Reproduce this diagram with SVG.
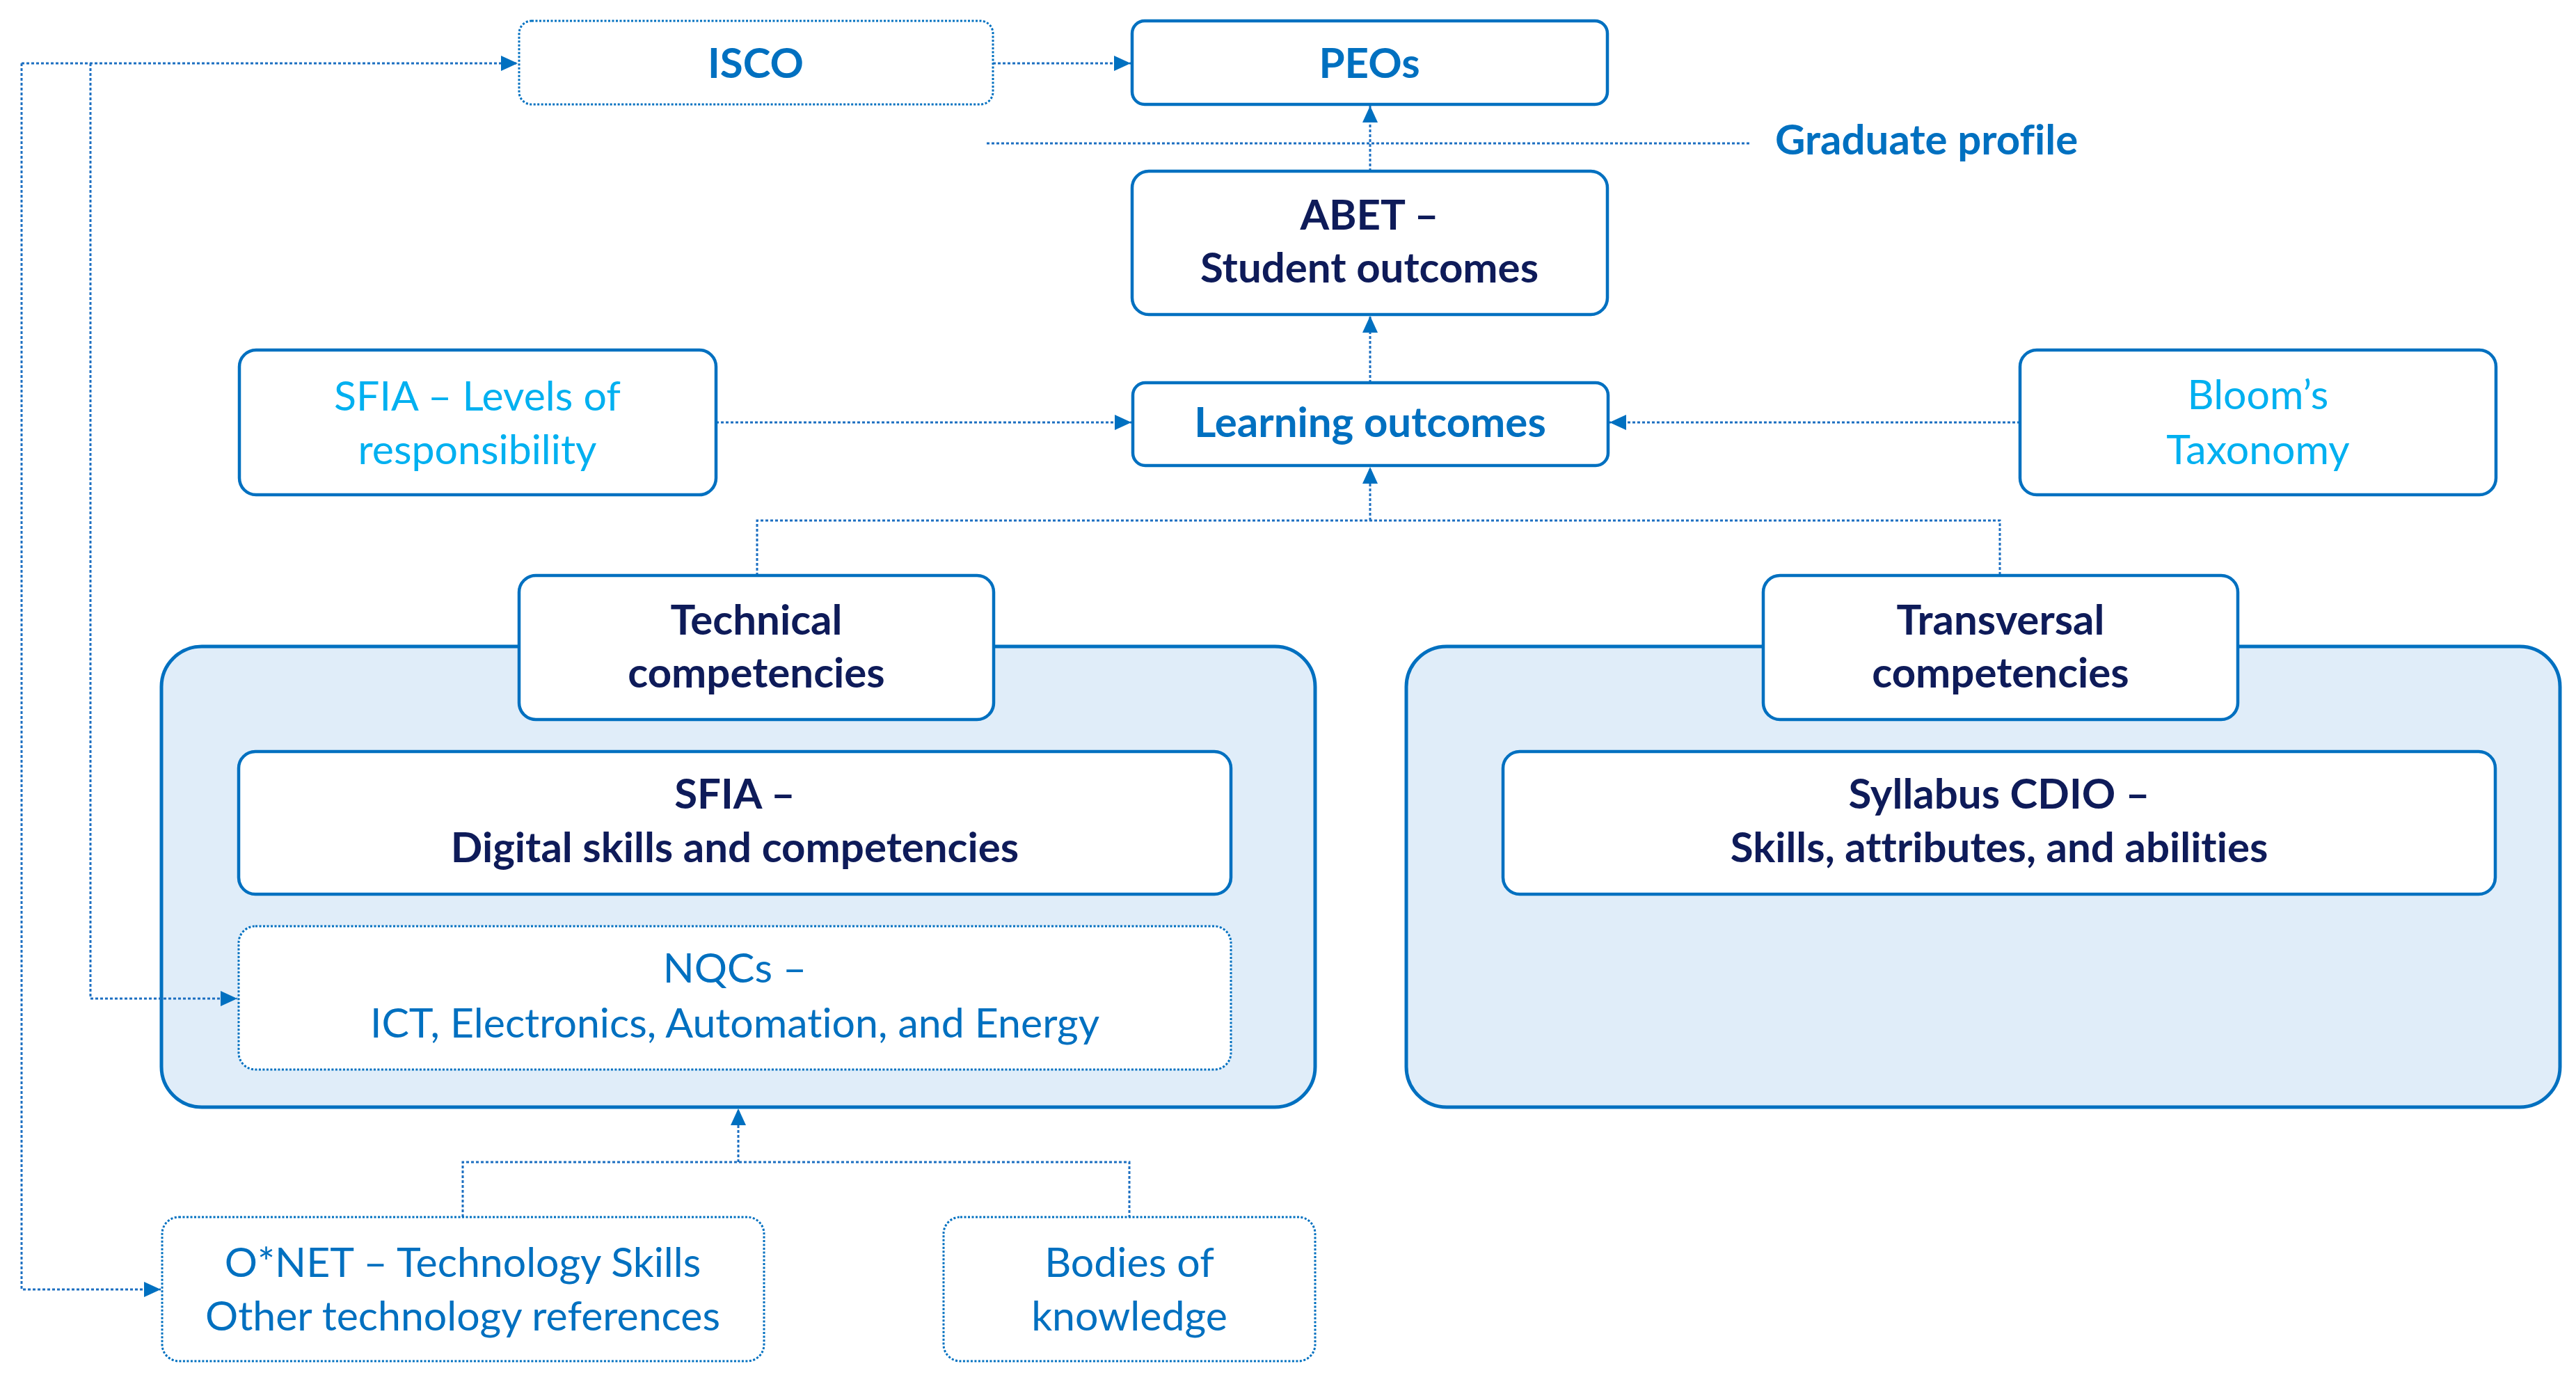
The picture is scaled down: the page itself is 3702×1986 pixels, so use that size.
<svg xmlns="http://www.w3.org/2000/svg" width="3702" height="1986" viewBox="0 0 3702 1986">
<defs>
<style>
.bg{fill:#ffffff}
.cont{fill:#E0EDF9;stroke:#0070C0;stroke-width:5}
.node{fill:#ffffff;stroke:#0070C0;stroke-width:4.5}
.dnode{fill:#ffffff;stroke:#0070C0;stroke-width:3;stroke-dasharray:3 2.5}
.conn{fill:none;stroke:#1C6FC1;stroke-width:3;stroke-dasharray:4 3}
.t{font-family:Lato,"Open Sans","Liberation Sans",sans-serif;font-size:59px;text-anchor:middle;font-variant-ligatures:none;font-feature-settings:"liga" 0}
.b{font-weight:bold;font-size:60px}
.navy{fill:#0E1B59}
.blue{fill:#0070C0}
.cyan{fill:#00B0F0}
</style>
<marker id="ah" viewBox="0 0 24 22" refX="24" refY="11" markerWidth="24" markerHeight="22" markerUnits="userSpaceOnUse" orient="auto">
<path d="M0,0 L24,11 L0,22 Z" fill="#0070C0"/>
</marker>
</defs>
<rect class="bg" x="0" y="0" width="3702" height="1986"/>

<g id="container-technical"><rect class="cont" x="232" y="929" width="1658" height="662" rx="58" ry="58"/></g>
<g id="container-transversal"><rect class="cont" x="2021" y="929" width="1658" height="662" rx="58" ry="58"/></g>

<g id="connectors">
<path class="conn" d="M31,91 H744" marker-end="url(#ah)"/>
<path class="conn" d="M31,91 V1853 H231" marker-end="url(#ah)"/>
<path class="conn" d="M130,91 V1435 H341" marker-end="url(#ah)"/>
<path class="conn" d="M1427,91 H1625" marker-end="url(#ah)"/>
<path class="conn" d="M1969,246 V152" marker-end="url(#ah)"/>
<path class="conn" d="M1418,206 H2517"/>
<path class="conn" d="M1969,550 V454" marker-end="url(#ah)"/>
<path class="conn" d="M1029,607 H1626" marker-end="url(#ah)"/>
<path class="conn" d="M2903,607 H2313" marker-end="url(#ah)"/>
<path class="conn" d="M1088,827 V748 H2874 V827"/>
<path class="conn" d="M1969,748 V671" marker-end="url(#ah)"/>
<path class="conn" d="M665,1749 V1670 H1623 V1749"/>
<path class="conn" d="M1061,1670 V1593" marker-end="url(#ah)"/>
</g>

<g id="isco"><rect class="dnode" x="746" y="30" width="681" height="120" rx="18"/><text class="t b blue" x="1086" y="112">ISCO</text></g>
<g id="peos"><rect class="node" x="1627" y="30" width="683" height="120" rx="18"/><text class="t b blue" x="1968" y="112">PEOs</text></g>
<g id="graduate-profile"><text class="t b blue" x="2551" y="222" style="text-anchor:start">Graduate profile</text></g>
<g id="abet"><rect class="node" x="1627" y="246" width="683" height="206" rx="24"/><text class="t b navy" x="1968" y="330">ABET –</text><text class="t b navy" x="1968" y="406">Student outcomes</text></g>
<g id="sfia-levels"><rect class="node" x="344" y="503" width="685" height="208" rx="24"/><text class="t cyan" x="686" y="590">SFIA – Levels of</text><text class="t cyan" x="686" y="667">responsibility</text></g>
<g id="learning-outcomes"><rect class="node" x="1628" y="550" width="683" height="119" rx="18"/><text class="t b blue" x="1969" y="628">Learning outcomes</text></g>
<g id="blooms"><rect class="node" x="2903" y="503" width="684" height="208" rx="24"/><text class="t cyan" x="3245" y="588">Bloom’s</text><text class="t cyan" x="3245" y="667">Taxonomy</text></g>
<g id="technical"><rect class="node" x="746" y="827" width="682" height="207" rx="24"/><text class="t b navy" x="1087" y="912">Technical</text><text class="t b navy" x="1087" y="988">competencies</text></g>
<g id="transversal"><rect class="node" x="2534" y="827" width="682" height="207" rx="24"/><text class="t b navy" x="2875" y="912">Transversal</text><text class="t b navy" x="2875" y="988">competencies</text></g>
<g id="sfia-digital"><rect class="node" x="343" y="1080" width="1426" height="205" rx="24"/><text class="t b navy" x="1056" y="1162">SFIA –</text><text class="t b navy" x="1056" y="1239">Digital skills and competencies</text></g>
<g id="syllabus-cdio"><rect class="node" x="2160" y="1080" width="1426" height="205" rx="24"/><text class="t b navy" x="2873" y="1162">Syllabus CDIO –</text><text class="t b navy" x="2873" y="1239">Skills, attributes, and abilities</text></g>
<g id="nqcs"><rect class="dnode" x="343" y="1331" width="1426" height="206" rx="24"/><text class="t blue" x="1056" y="1412">NQCs –</text><text class="t blue" x="1056" y="1491">ICT, Electronics, Automation, and Energy</text></g>
<g id="onet"><rect class="dnode" x="233" y="1749" width="865" height="207" rx="24"/><text class="t blue" x="665" y="1835">O*NET – Technology Skills</text><text class="t blue" x="665" y="1912">Other technology references</text></g>
<g id="bodies"><rect class="dnode" x="1356" y="1749" width="534" height="207" rx="24"/><text class="t blue" x="1623" y="1835">Bodies of</text><text class="t blue" x="1623" y="1912">knowledge</text></g>
</svg>
